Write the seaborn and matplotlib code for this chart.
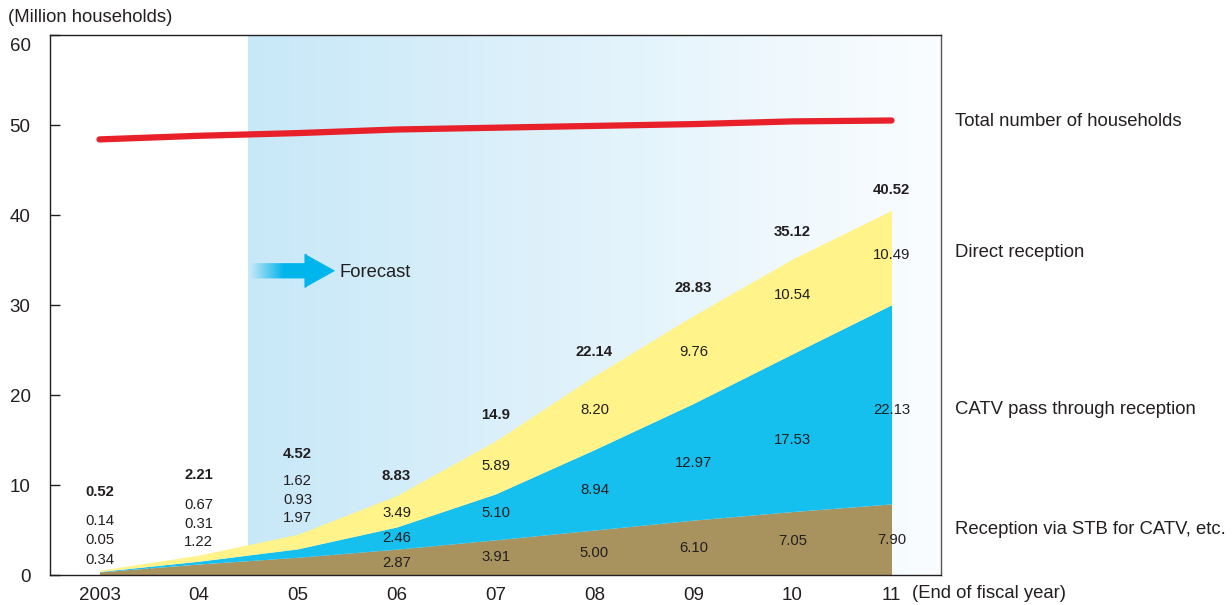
import numpy as np
import pandas as pd
import matplotlib
matplotlib.use("Agg")
import matplotlib.pyplot as plt
import matplotlib.transforms as mtransforms
import seaborn as sns
from matplotlib.patches import Polygon

# ---------------- data ----------------
years = ["2003", "04", "05", "06", "07", "08", "09", "10", "11"]
stb = [0.34, 1.22, 1.97, 2.87, 3.91, 5.00, 6.10, 7.05, 7.90]
catv = [0.05, 0.31, 0.93, 2.46, 5.10, 8.94, 12.97, 17.53, 22.13]
direct = [0.14, 0.67, 1.62, 3.49, 5.89, 8.20, 9.76, 10.54, 10.49]
totals = ["0.52", "2.21", "4.52", "8.83", "14.9", "22.14", "28.83", "35.12", "40.52"]
households = [48.4, 48.8, 49.1, 49.5, 49.7, 49.9, 50.1, 50.4, 50.5]

stb_lbl = ["0.34", "1.22", "1.97", "2.87", "3.91", "5.00", "6.10", "7.05", "7.90"]
catv_lbl = ["0.05", "0.31", "0.93", "2.46", "5.10", "8.94", "12.97", "17.53", "22.13"]
direct_lbl = ["0.14", "0.67", "1.62", "3.49", "5.89", "8.20", "9.76", "10.54", "10.49"]

# label placement (y in data units)
pos_total = [9.2, 11.1, 13.4, 11.0, 17.8, 24.8, 31.9, 38.1, 42.8]
pos_direct = [6.0, 7.8, 10.4, 6.9, 12.1, 18.3, 24.8, 31.1, 35.6]
pos_catv = [3.9, 5.7, 8.3, 4.1, 6.9, 9.4, 12.4, 15.0, 18.3]
pos_stb = [1.7, 3.7, 6.3, 1.3, 2.0, 2.4, 3.0, 3.8, 3.9]

# ---------------- style ----------------
sns.set_theme(style="white")
plt.rcParams["font.family"] = ["Liberation Sans", "DejaVu Sans"]
TXT = "#231f20"

fig = plt.figure(figsize=(12.32, 6.05), dpi=100)
ax = fig.add_axes([50 / 1232, 30 / 605, 891 / 1232, 540 / 605])

x = np.arange(len(years))
ax.set_xlim(-0.5, 8.5)
ax.set_ylim(0, 60)

# forecast gradient background
n = 256
c0 = np.array([200, 232, 248]) / 255
c1 = np.array([250, 253, 255]) / 255
t = np.linspace(0, 1, n)[None, :, None]
grad = c0 + (c1 - c0) * t
ax.imshow(grad, extent=[1.5, 8.5, 0, 60], aspect="auto", zorder=0, interpolation="bilinear")

# stacked areas
ax.stackplot(x, stb, catv, direct, colors=["#a8935e", "#15c0ef", "#fff38a"],
             linewidth=0, zorder=2)

# total households line
df = pd.DataFrame({"x": x, "households": households})
sns.lineplot(data=df, x="x", y="households", ax=ax, color="#e8202a", linewidth=4.5,
             zorder=3, solid_capstyle="round")

# labels
FS = 10.7
for i in range(len(years)):
    ax.text(x[i], pos_total[i], totals[i], ha="center", va="center", fontsize=FS,
            fontweight="bold", color=TXT, zorder=5)
    ax.text(x[i], pos_direct[i], direct_lbl[i], ha="center", va="center", fontsize=FS,
            color=TXT, zorder=5)
    ax.text(x[i], pos_catv[i], catv_lbl[i], ha="center", va="center", fontsize=FS,
            color=TXT, zorder=5)
    ax.text(x[i], pos_stb[i], stb_lbl[i], ha="center", va="center", fontsize=FS,
            color=TXT, zorder=5)

# forecast arrow with gradient
ax_x0, ax_x1 = 1.52, 2.38
xh = 2.08
yc, sh, hh = 33.8, 0.85, 1.9
poly = [(ax_x0, yc - sh), (xh, yc - sh), (xh, yc - hh), (ax_x1, yc),
        (xh, yc + hh), (xh, yc + sh), (ax_x0, yc + sh)]
patch = Polygon(poly, closed=True, facecolor="none", edgecolor="none")
ax.add_patch(patch)
agrad = np.zeros((1, 256, 4))
agrad[..., 0] = 0 / 255
agrad[..., 1] = 181 / 255
agrad[..., 2] = 236 / 255
agrad[..., 3] = np.clip(np.linspace(0, 1.7, 256), 0, 1)
im = ax.imshow(agrad, extent=[ax_x0, 2.09, yc - hh, yc + hh], aspect="auto", zorder=4,
               interpolation="bilinear")
im.set_clip_path(patch)
head = Polygon([(xh - 0.01, yc - hh), (ax_x1, yc), (xh - 0.01, yc + hh)], closed=True,
               facecolor="#00b5ec", edgecolor="none", zorder=4)
ax.add_patch(head)
ax.text(2.42, 33.6, "Forecast", fontsize=13.2, color=TXT, va="center", ha="left", zorder=5)

# axes styling
for s in ax.spines.values():
    s.set_color(TXT)
    s.set_linewidth(1.0)
    s.set_zorder(6)
ax.spines["right"].set_color("#555555")
ax.set_xticks(x)
ax.set_xticklabels(years, fontsize=13.5, color=TXT)
ax.set_xticks(np.arange(0.5, 8, 1), minor=True)
ax.tick_params(axis="x", which="major", length=0, pad=9)
ax.tick_params(axis="x", which="minor", direction="in", length=6, width=1, color=TXT, bottom=True)
ax.set_yticks(np.arange(0, 61, 10))
ax.set_yticklabels([str(v) for v in range(0, 61, 10)], fontsize=13.5, color=TXT)
ax.tick_params(axis="y", which="major", direction="in", length=7, width=1, color=TXT, left=True, pad=14)
# the top label sits slightly below its tick in the reference
top_lbl = ax.get_yticklabels()[-1]
top_lbl.set_transform(top_lbl.get_transform() +
                      mtransforms.ScaledTranslation(0, -7 / 72, fig.dpi_scale_trans))
ax.set_xlabel("")
ax.set_ylabel("")
ax.grid(False)

# outside texts
OFS = 13.3
fig.text(8 / 1232, 1 - 17 / 605, "(Million households)", fontsize=OFS, color=TXT, va="center", ha="left")
fig.text(912 / 1232, 1 - 593 / 605, "(End of fiscal year)", fontsize=OFS, color=TXT, va="center", ha="left")
rx = 955 / 1232
for ypx, lab in [(121, "Total number of households"), (252, "Direct reception"),
                 (410, "CATV pass through reception"), (530, "Reception via STB for CATV, etc.")]:
    fig.text(rx, 1 - ypx / 605, lab, fontsize=OFS, color=TXT, va="center", ha="left")

fig.savefig("out.png", dpi=100)
